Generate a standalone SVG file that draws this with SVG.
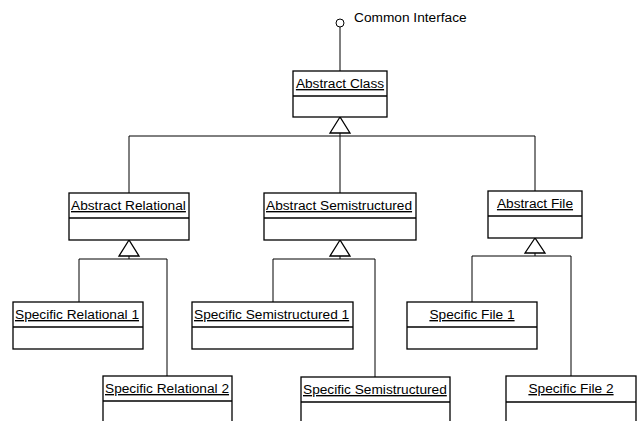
<svg xmlns="http://www.w3.org/2000/svg" width="637" height="421" viewBox="0 0 637 421">
<style>
.box{fill:#fff;stroke:#000;stroke-width:1.3}
.div{stroke:#000;stroke-width:1.3}
.t{font-family:"Liberation Sans",Arial,sans-serif;font-size:13.7px;fill:#000}
.u{text-decoration:underline}
.c{fill:none;stroke:#000;stroke-width:1}
.tri{fill:#fff;stroke:#000;stroke-width:1.3}
</style>
<rect width="637" height="421" fill="#fff"/>
<g id="connectors">
<circle cx="340" cy="23" r="4" fill="#fff" stroke="#000" stroke-width="1"/>
<line class="c" x1="340" y1="27" x2="340" y2="71"/>
<polyline class="c" points="129,193 129,136 535,136 535,191"/>
<line class="c" x1="340" y1="133" x2="340" y2="193"/>
<polygon class="tri" points="340,117 330,133 350,133"/>
<polyline class="c" points="79,302 79,259 167,259 167,376"/>
<line class="c" x1="129" y1="256" x2="129" y2="259"/>
<polygon class="tri" points="129,240 119,256 139,256"/>
<polyline class="c" points="273,302 273,259 375,259 375,377"/>
<line class="c" x1="340" y1="256" x2="340" y2="259"/>
<polygon class="tri" points="340,240 330,256 350,256"/>
<polyline class="c" points="472,302 472,256 571,256 571,376"/>
<line class="c" x1="535" y1="253" x2="535" y2="256"/>
<polygon class="tri" points="535,238 525,253 545,253"/>
</g>
<g id="interface"><text class="t" x="354" y="22">Common Interface</text></g>
<g id="abstract-class">
<rect class="box" x="293" y="71" width="94" height="46"/>
<line class="div" x1="293" y1="96" x2="387" y2="96"/>
<text class="t u" x="340" y="88" text-anchor="middle">Abstract Class</text>
</g>
<g id="abstract-relational">
<rect class="box" x="69" y="193" width="120" height="47"/>
<line class="div" x1="69" y1="218" x2="189" y2="218"/>
<text class="t u" x="71" y="210">Abstract Relational</text>
</g>
<g id="abstract-semistructured">
<rect class="box" x="264" y="193" width="152" height="47"/>
<line class="div" x1="264" y1="218" x2="416" y2="218"/>
<text class="t u" x="266" y="210">Abstract Semistructured</text>
</g>
<g id="abstract-file">
<rect class="box" x="488" y="191" width="94" height="47"/>
<line class="div" x1="488" y1="216" x2="582" y2="216"/>
<text class="t u" x="535" y="208" text-anchor="middle">Abstract File</text>
</g>
<g id="specific-relational-1">
<rect class="box" x="13" y="302" width="130" height="47"/>
<line class="div" x1="13" y1="327" x2="143" y2="327"/>
<text class="t u" x="15" y="319">Specific Relational 1</text>
</g>
<g id="specific-relational-2">
<rect class="box" x="103" y="376" width="129" height="60"/>
<line class="div" x1="103" y1="401" x2="232" y2="401"/>
<text class="t u" x="105" y="393">Specific Relational 2</text>
</g>
<g id="specific-semistructured-1">
<rect class="box" x="192" y="302" width="161" height="47"/>
<line class="div" x1="192" y1="327" x2="353" y2="327"/>
<text class="t u" x="194" y="319">Specific Semistructured 1</text>
</g>
<g id="specific-semistructured">
<rect class="box" x="301" y="377" width="149" height="60"/>
<line class="div" x1="301" y1="402" x2="450" y2="402"/>
<text class="t u" x="303" y="394">Specific Semistructured</text>
</g>
<g id="specific-file-1">
<rect class="box" x="407" y="302" width="130" height="47"/>
<line class="div" x1="407" y1="327" x2="537" y2="327"/>
<text class="t u" x="472" y="319" text-anchor="middle">Specific File 1</text>
</g>
<g id="specific-file-2">
<rect class="box" x="506" y="376" width="130" height="60"/>
<line class="div" x1="506" y1="402" x2="636" y2="402"/>
<text class="t u" x="571" y="393" text-anchor="middle">Specific File 2</text>
</g>
</svg>
